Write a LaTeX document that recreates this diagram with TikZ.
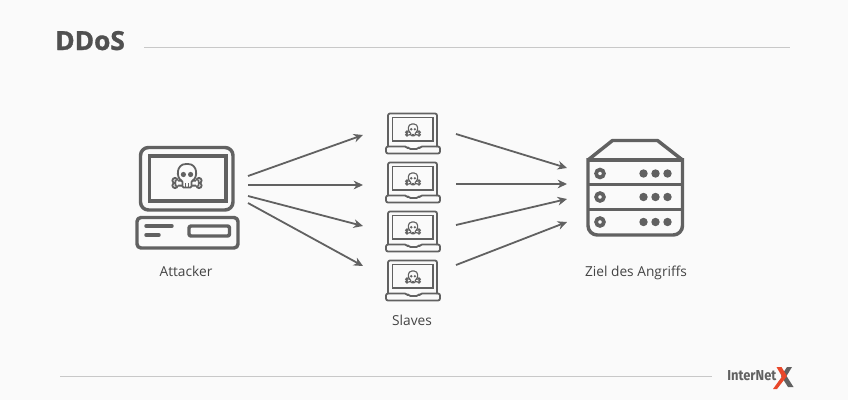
\documentclass[tikz,border=0pt]{standalone}
\usepackage{fontspec}
\setmainfont{Open Sans}
\newfontfamily\logofont{Fira Sans}
\newfontfamily\titlefont[BoldFeatures={FakeBold=1.2}]{Open Sans}
\definecolor{ink}{HTML}{616161}
\definecolor{titleink}{HTML}{505050}
\definecolor{rulegrey}{HTML}{C8C8C8}
\definecolor{bgc}{HTML}{FAFAFA}
\definecolor{orangex}{HTML}{E8472A}
\usetikzlibrary{arrows.meta}
\tikzset{
  icon/.style={draw=ink,line width=2.6pt,rounded corners=3pt,line join=round},
  iconthin/.style={draw=ink,line width=1.35pt,rounded corners=1.5pt,line join=round},
  flow/.style={draw=ink,line width=1.35pt,-{Stealth[length=7pt,width=6.5pt,inset=2.2pt]}},
  rulerline/.style={draw=rulegrey,line width=0.8pt},
  label/.style={text=ink!70!black,font=\fontsize{10.3pt}{12pt}\selectfont,inner sep=0pt}
}
\newcommand{\skullicon}[4]{% x, y, scale, line width
  \begin{scope}[shift={(#1,#2)},scale=#3]
    \draw[ink,line width=#4,fill=bgc] (-12,4.5) circle (2.6) (-12,9.5) circle (2.6) (12,4.5) circle (2.6) (12,9.5) circle (2.6);
    \draw[ink,line width=#4,fill=bgc] (-11.5,4.4) -- (-4,5) -- (4,5) -- (11.5,4.4) -- (11.5,9.6) -- (-11.5,9.6) -- cycle;
    \fill[bgc] (-10.5,4.6) rectangle (-9,9.4) (10.5,4.6) rectangle (9,9.4);
    \draw[ink,line width=#4,fill=bgc,line join=round,rounded corners=0.8pt]
      (-4.5,11.5) -- (-4.5,5) .. controls (-11,2) and (-11,-12) .. (0,-12)
      .. controls (11,-12) and (11,2) .. (4.5,5) -- (4.5,11.5) -- cycle;
    \fill[ink] (-3.6,-1.5) circle (2.6) (3.6,-1.5) circle (2.6);
    \draw[ink,line width=#4] (-1.5,7) -- (-1.5,11.5) (1.5,7) -- (1.5,11.5);
  \end{scope}}
\newcommand{\laptopicon}[2]{% name, top y
  \begin{scope}[yshift=#2*-0.75pt]
    \node[minimum width=40pt,minimum height=31pt,inner sep=0pt] (#1) at (413,133.5) {};
    \draw[iconthin] (388,147) -- (388,113.5) -- (437,113.5) -- (437,147);
    \draw[draw=ink,line width=1.35pt] (392.5,117.5) rectangle (433,141);
    \draw[iconthin] (386,146.5) -- (407,146.5) -- (408.5,149) -- (418.5,149) -- (420,146.5) -- (440,146.5) -- (440,153.5) -- (386,153.5) -- cycle;
    \skullicon{413}{130}{0.5}{0.85pt}
  \end{scope}}
\begin{document}
\begin{tikzpicture}[x=0.75pt,y=-0.75pt]
  \useasboundingbox[fill=bgc] (0,0) rectangle (848,400);
  % title
  \node[anchor=base west,text=titleink,inner sep=0pt,font=\titlefont\bfseries\fontsize{19.7pt}{24pt}\selectfont] (title) at (55,50) {DDoS};
  \coordinate (ruleA) at (144,47.5); \coordinate (ruleB) at (790,47.5);
  \draw[rulerline] (ruleA) -- (ruleB);
  % attacker
  \node[minimum width=70pt,minimum height=48pt,inner sep=0pt] (attacker) at (187,178) {};
  \draw[icon,rounded corners=6pt] (140.5,147.5) rectangle (233,210);
  \draw[draw=ink,line width=2.6pt] (149.5,156) rectangle (226,201);
  \draw[icon] (137,217.5) rectangle (238,248);
  \draw[ink,line width=2.6pt,line cap=round] (146,226) -- (172,226) (146,235) -- (159,235);
  \draw[icon,rounded corners=1.5pt] (189,226) rectangle (229.5,236);
  \skullicon{187}{176}{1}{1.35pt}
  \node[label,anchor=base] (attackerlabel) at (186,276) {Attacker};
  % slaves
  \laptopicon{slaveA}{0}
  \laptopicon{slaveB}{49}
  \laptopicon{slaveC}{98}
  \laptopicon{slaveD}{147}
  \node[label,anchor=base] (slaveslabel) at (412,325) {Slaves};
  % target
  \node[minimum width=72pt,minimum height=72pt,inner sep=0pt] (target) at (635,188) {};
  \draw[draw=ink,line width=2.6pt,line join=round] (588,160) -- (612.5,140.5) -- (657.5,140.5) -- (682.5,160);
  \draw[draw=ink,line width=2.6pt,line join=round,rounded corners=7pt] (588,158) -- (588,235) -- (682.5,235) -- (682.5,158);
  \draw[ink,line width=2.6pt] (588,160) -- (682.5,160) (588,184.5) -- (682.5,184.5) (588,209.5) -- (682.5,209.5);
  \foreach \yy in {173.5,197,222}{
    \draw[ink,line width=2.8pt] (600,\yy) circle (3.9);
    \fill[ink] (643.5,\yy) circle (4.2) (655.5,\yy) circle (4.2) (667.5,\yy) circle (4.2);
  }
  \node[label,anchor=base] (targetlabel) at (636,276) {Ziel des Angriffs};
  % connector ends
  \coordinate (aA) at (248,176); \coordinate (aB) at (248,185); \coordinate (aC) at (248,196); \coordinate (aD) at (248,203);
  \coordinate (sAi) at (363,135); \coordinate (sBi) at (363,185); \coordinate (sCi) at (363,226); \coordinate (sDi) at (363,266);
  \coordinate (sAo) at (456,134); \coordinate (sBo) at (456,184); \coordinate (sCo) at (456,225); \coordinate (sDo) at (456,265);
  \coordinate (tA) at (567,168); \coordinate (tB) at (567,184); \coordinate (tC) at (567,199); \coordinate (tD) at (567,222);
  \draw[flow] (aA) -- (sAi);
  \draw[flow] (aB) -- (sBi);
  \draw[flow] (aC) -- (sCi);
  \draw[flow] (aD) -- (sDi);
  \draw[flow] (sAo) -- (tA);
  \draw[flow] (sBo) -- (tB);
  \draw[flow] (sCo) -- (tC);
  \draw[flow] (sDo) -- (tD);
  % footer
  \coordinate (footA) at (60,376.5); \coordinate (footB) at (712,376.5);
  \draw[rulerline] (footA) -- (footB);
  \node[anchor=base west,inner sep=0pt,text=ink,xscale=0.9,transform shape,font=\logofont\bfseries\fontsize{10.8pt}{12pt}\selectfont] (logo) at (727,380) {InterNet};
  \fill[ink] (787,367) -- (792,367) -- (786.5,376) -- (793.5,387) -- (788,387) -- (781,376) -- cycle;
  \fill[orangex] (776.5,367) -- (781.5,367) -- (787,376) -- (777,389) -- (773,389) -- (782,376.5) -- cycle;
\end{tikzpicture}
\end{document}
